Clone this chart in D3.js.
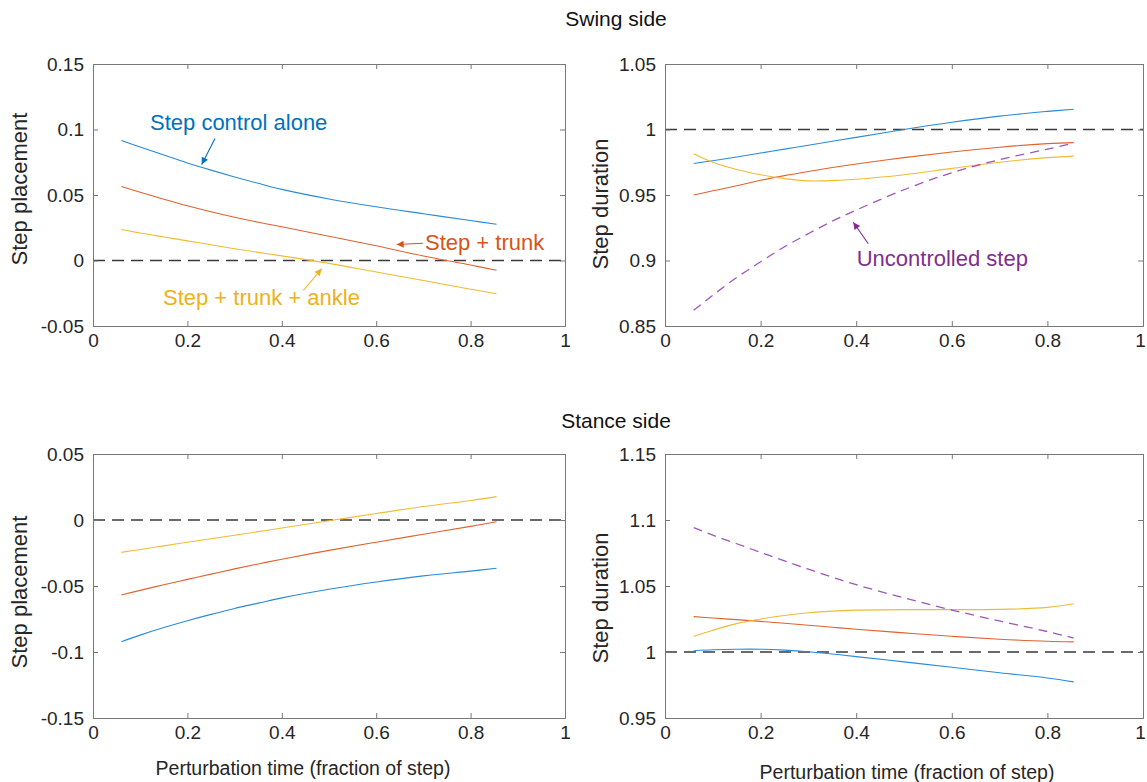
<!DOCTYPE html>
<html>
<head>
<meta charset="utf-8">
<script src="https://cdn.jsdelivr.net/npm/d3@7"></script>
<style>
  html, body { margin: 0; padding: 0; background: #fff; }
  svg { display: block; font-family: "Liberation Sans", Arial, Helvetica, sans-serif; }
</style>
</head>
<body>
<svg id="chart" width="1147" height="782"></svg>
<script>
// Perturbation time (fraction of step) at which each response was sampled
const perturbTime = [0.06, 0.1, 0.15, 0.2, 0.25, 0.3, 0.35, 0.4, 0.5, 0.6, 0.7, 0.8, 0.855];
const xTicks = [0, 0.2, 0.4, 0.6, 0.8, 1];

// Swing side: step placement
const swingPlaceAlone = [0.0916, 0.0866, 0.0805, 0.0745, 0.069, 0.0638, 0.0589, 0.0543, 0.047, 0.041, 0.0357, 0.0305, 0.0277];
const swingPlaceTrunk = [0.0565, 0.0521, 0.0468, 0.0418, 0.0372, 0.033, 0.0292, 0.0257, 0.0185, 0.0112, 0.0035, -0.0035, -0.0075];
const swingPlaceAnkle = [0.0237, 0.021, 0.018, 0.015, 0.012, 0.009, 0.0062, 0.0035, -0.0022, -0.0088, -0.0153, -0.0219, -0.0254];
const swingPlaceTicks = [-0.05, 0, 0.05, 0.1, 0.15];

// Swing side: step duration
const swingDurAlone = [0.974, 0.9762, 0.979, 0.982, 0.985, 0.988, 0.991, 0.994, 1.0, 1.0055, 1.0102, 1.0138, 1.0155];
const swingDurTrunk = [0.950, 0.9532, 0.957, 0.9612, 0.9648, 0.968, 0.971, 0.9737, 0.9785, 0.9828, 0.9865, 0.9892, 0.990];
const swingDurAnkle = [0.9815, 0.975, 0.9695, 0.9655, 0.9625, 0.9608, 0.961, 0.962, 0.9655, 0.9703, 0.975, 0.9785, 0.9797];
const swingDurUncontrolled = [0.862, 0.8735, 0.887, 0.899, 0.9105, 0.9205, 0.930, 0.9385, 0.954, 0.967, 0.977, 0.985, 0.9895];
const swingDurTicks = [0.85, 0.9, 0.95, 1, 1.05];

// Stance side: step placement
const stancePlaceAlone = [-0.0922, -0.0872, -0.0815, -0.0763, -0.0715, -0.067, -0.063, -0.059, -0.0525, -0.047, -0.0423, -0.0387, -0.0366];
const stancePlaceTrunk = [-0.0568, -0.0533, -0.049, -0.045, -0.041, -0.037, -0.0333, -0.0297, -0.023, -0.0168, -0.0108, -0.0048, -0.0013];
const stancePlaceAnkle = [-0.0245, -0.0223, -0.0196, -0.0169, -0.0142, -0.0115, -0.0088, -0.0061, -0.0006, 0.0049, 0.0102, 0.0148, 0.0177];
const stancePlaceTicks = [-0.15, -0.1, -0.05, 0, 0.05];

// Stance side: step duration
const stanceDurAlone = [1.001, 1.0017, 1.0021, 1.0021, 1.0014, 1.0002, 0.9985, 0.9965, 0.9925, 0.9885, 0.9843, 0.9803, 0.9774];
const stanceDurTrunk = [1.0268, 1.0258, 1.0245, 1.0232, 1.0218, 1.0203, 1.0188, 1.0172, 1.0145, 1.0119, 1.0097, 1.0081, 1.0077];
const stanceDurAnkle = [1.0119, 1.0165, 1.0215, 1.025, 1.0277, 1.0297, 1.031, 1.0317, 1.0321, 1.0321, 1.0323, 1.0338, 1.0365];
const stanceDurUncontrolled = [1.0943, 1.0885, 1.082, 1.0755, 1.069, 1.0627, 1.0567, 1.051, 1.041, 1.0318, 1.0235, 1.0155, 1.0106];
const stanceDurTicks = [0.95, 1, 1.05, 1.1, 1.15];

// Series styling (MATLAB default colour order)
const COLORS = { alone: "#0072BD", trunk: "#D95319", ankle: "#EDB120", uncontrolled: "#7E2F8E" };
const LINE_COLORS = { alone: "#2a8ad6", trunk: "#e0622e", ankle: "#f0ba34", uncontrolled: "#a056b8" };

const svg = d3.select("#chart");
const FONT_TICK = 19;
const FONT_LABEL = 22;
const AXIS_COLOR = "#777";
const TEXT_COLOR = "#262626";

// Arrow heads, one per annotation colour
const defs = svg.append("defs");
Object.entries(COLORS).forEach(([key, col]) => {
  defs.append("marker")
    .attr("id", "arrow-" + key)
    .attr("viewBox", "0 0 10 10")
    .attr("refX", 10).attr("refY", 5)
    .attr("markerWidth", 9).attr("markerHeight", 7)
    .attr("markerUnits", "userSpaceOnUse")
    .attr("orient", "auto")
    .append("path")
    .attr("d", "M0,0 L10,5 L0,10 z")
    .attr("fill", col);
});

const fmt = v => String(Math.round(v * 100) / 100);

const panels = [
  {
    box: { left: 93, right: 565, top: 64, bottom: 326 },
    yDomain: [-0.05, 0.15], yTicks: swingPlaceTicks, ref: 0,
    yLabel: "Step placement", yLabelPos: { x: 27, y: 189 },
    series: [
      { key: "alone", values: swingPlaceAlone },
      { key: "trunk", values: swingPlaceTrunk },
      { key: "ankle", values: swingPlaceAnkle }
    ],
    notes: [
      { key: "alone", text: "Step control alone", textAt: [0.1208, 0.0998], from: [0.2585, 0.0931], to: [0.2303, 0.0733] },
      { key: "trunk", text: "Step + trunk", textAt: [0.7034, 0.0080], from: [0.699, 0.0132], to: [0.6434, 0.0122] },
      { key: "ankle", text: "Step + trunk + ankle", textAt: [0.1483, -0.0336], from: [0.4456, -0.0229], to: [0.4845, -0.0063] }
    ]
  },
  {
    box: { left: 665, right: 1143, top: 64, bottom: 326 },
    yDomain: [0.85, 1.05], yTicks: swingDurTicks, ref: 1,
    yLabel: "Step duration", yLabelPos: { x: 608, y: 204 },
    series: [
      { key: "alone", values: swingDurAlone },
      { key: "trunk", values: swingDurTrunk },
      { key: "ankle", values: swingDurAnkle },
      { key: "uncontrolled", values: swingDurUncontrolled, dashed: true }
    ],
    notes: [
      { key: "uncontrolled", text: "Uncontrolled step", textAt: [0.401, 0.8957], from: [0.4253, 0.9128], to: [0.3939, 0.9292] }
    ]
  },
  {
    box: { left: 93, right: 565, top: 454, bottom: 718 },
    yDomain: [-0.15, 0.05], yTicks: stancePlaceTicks, ref: 0,
    yLabel: "Step placement", yLabelPos: { x: 27, y: 592 },
    xLabelPos: { x: 303, y: 775 },
    series: [
      { key: "alone", values: stancePlaceAlone },
      { key: "trunk", values: stancePlaceTrunk },
      { key: "ankle", values: stancePlaceAnkle }
    ],
    notes: []
  },
  {
    box: { left: 665, right: 1143, top: 454, bottom: 718 },
    yDomain: [0.95, 1.15], yTicks: stanceDurTicks, ref: 1,
    yLabel: "Step duration", yLabelPos: { x: 608, y: 598 },
    xLabelPos: { x: 907, y: 779 },
    series: [
      { key: "alone", values: stanceDurAlone },
      { key: "trunk", values: stanceDurTrunk },
      { key: "ankle", values: stanceDurAnkle },
      { key: "uncontrolled", values: stanceDurUncontrolled, dashed: true }
    ],
    notes: []
  }
];

panels.forEach(p => {
  const b = p.box;
  const x = d3.scaleLinear().domain([0, 1]).range([b.left, b.right]);
  const y = d3.scaleLinear().domain(p.yDomain).range([b.bottom, b.top]);
  const g = svg.append("g");

  // Reference line (no effect)
  g.append("line")
    .attr("x1", x(0)).attr("x2", x(1))
    .attr("y1", y(p.ref)).attr("y2", y(p.ref))
    .attr("stroke", "#3a3a3a").attr("stroke-width", 1.3)
    .attr("stroke-dasharray", "12,7");

  // Response curves
  const line = d3.line()
    .x((d, i) => x(perturbTime[i]))
    .y(d => y(d))
    .curve(d3.curveCatmullRom.alpha(0.5));
  p.series.forEach(s => {
    g.append("path")
      .datum(s.values)
      .attr("d", line)
      .attr("fill", "none")
      .attr("stroke", LINE_COLORS[s.key])
      .attr("stroke-width", s.dashed ? 1.3 : 1.1)
      .attr("stroke-dasharray", s.dashed ? "9,6" : null);
  });

  // Box with inward ticks on all four sides
  const tickLen = 5;
  const axB = d3.axisBottom(x).tickValues(xTicks).tickSize(-tickLen).tickPadding(8).tickFormat(fmt);
  const axT = d3.axisTop(x).tickValues(xTicks).tickSize(-tickLen).tickFormat("");
  const axL = d3.axisLeft(y).tickValues(p.yTicks).tickSize(-tickLen).tickPadding(9).tickFormat(fmt);
  const axR = d3.axisRight(y).tickValues(p.yTicks).tickSize(-tickLen).tickFormat("");

  const gB = g.append("g").attr("transform", `translate(0,${b.bottom})`).call(axB);
  const gT = g.append("g").attr("transform", `translate(0,${b.top})`).call(axT);
  const gL = g.append("g").attr("transform", `translate(${b.left},0)`).call(axL);
  const gR = g.append("g").attr("transform", `translate(${b.right},0)`).call(axR);
  [gB, gT, gL, gR].forEach(a => {
    a.select(".domain").attr("stroke", AXIS_COLOR).attr("stroke-width", 1);
    a.selectAll(".tick line").attr("stroke", AXIS_COLOR).attr("stroke-width", 1);
    a.selectAll(".tick text")
      .attr("fill", TEXT_COLOR)
      .style("font-size", FONT_TICK + "px")
      .style("font-family", '"Liberation Sans", Arial, sans-serif');
  });
  // keep the last x tick label inside the page at the right edge
  gB.selectAll(".tick text").filter(d => d === 1 && b.right > 1100).attr("dx", -3);

  // Axis labels
  g.append("text")
    .attr("transform", `translate(${p.yLabelPos.x},${p.yLabelPos.y}) rotate(-90)`)
    .attr("text-anchor", "middle")
    .attr("fill", TEXT_COLOR)
    .style("font-size", FONT_LABEL + "px")
    .text(p.yLabel);
  if (p.xLabelPos) {
    g.append("text")
      .attr("x", p.xLabelPos.x).attr("y", p.xLabelPos.y)
      .attr("text-anchor", "middle")
      .attr("fill", TEXT_COLOR)
      .style("font-size", "19.5px")
      .text("Perturbation time (fraction of step)");
  }

  // Series annotations with arrows
  p.notes.forEach(n => {
    g.append("line")
      .attr("x1", x(n.from[0])).attr("y1", y(n.from[1]))
      .attr("x2", x(n.to[0])).attr("y2", y(n.to[1]))
      .attr("stroke", COLORS[n.key]).attr("stroke-width", 1.1)
      .attr("marker-end", `url(#arrow-${n.key})`);
    g.append("text")
      .attr("x", x(n.textAt[0])).attr("y", y(n.textAt[1]))
      .attr("fill", COLORS[n.key])
      .style("font-size", FONT_LABEL + "px")
      .text(n.text);
  });
});

// Row titles
const titles = [
  { text: "Swing side", y: 26 },
  { text: "Stance side", y: 428 }
];
svg.selectAll("text.row-title")
  .data(titles)
  .enter().append("text")
  .attr("class", "row-title")
  .attr("x", 616).attr("y", d => d.y)
  .attr("text-anchor", "middle")
  .attr("fill", "#111")
  .style("font-size", "21px")
  .text(d => d.text);
</script>
</body>
</html>
